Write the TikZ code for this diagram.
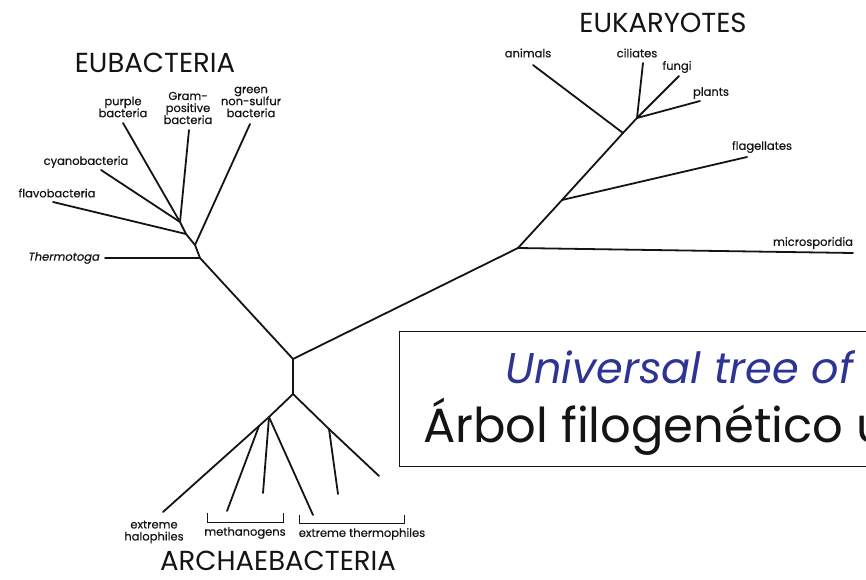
\documentclass[tikz,border=0pt]{standalone}
\usepackage{fontspec}
\setmainfont{Poppins}
\newfontfamily\taxonfont{Poppins}[FakeBold=0.4]
\definecolor{ink}{HTML}{141414}
\definecolor{capBlue}{HTML}{2E3494}
\definecolor{paper}{HTML}{FFFFFF}

\begin{document}
\begin{tikzpicture}[
    x=1pt, y=-1pt,
    every node/.style={text=ink},
    branch/.style={line width=1.8pt, draw=ink, line cap=round, line join=round},
    taxon/.style={font=\taxonfont\fontsize{11.5}{12}\selectfont, align=center, inner sep=0pt},
    domainname/.style={font=\fontsize{27.5}{28}\selectfont, inner sep=0pt},
    bracket/.style={line width=0.9pt, draw=ink},
    capbox/.style={draw=ink, line width=1.3pt, fill=paper, anchor=north west,
                   minimum width=520pt, minimum height=135pt},
    captext/.style={font=\fontsize{48}{50}\selectfont, anchor=base west, inner sep=0pt},
]

% --- Frame of the slide (the caption box runs off the right edge) ---
\path[use as bounding box, clip] (0,0) rectangle (866,580);

% --- Branch points ---
\coordinate (rT) at (293,359);
\coordinate (rB) at (293,394);
\coordinate (eA) at (180,222);
\coordinate (eB) at (186,234);
\coordinate (eC) at (195,245);
\coordinate (eD) at (200,258);
\coordinate (kA) at (518,248);
\coordinate (kB) at (562,200);
\coordinate (kC) at (623,133);
\coordinate (kD) at (637,118);
\coordinate (aL) at (269,417);
\coordinate (aM) at (259,426);
\coordinate (aR) at (329,429);

% --- Tips ---
\coordinate (tPurple)  at (123,123);
\coordinate (tGram)    at (189,130);
\coordinate (tGreen)   at (250,124);
\coordinate (tCyano)   at (101,170);
\coordinate (tFlavo)   at (53,202);
\coordinate (tThermo)  at (105,258);
\coordinate (tMicro)   at (853,253);
\coordinate (tFlag)    at (747,157);
\coordinate (tAnimal)  at (533,65);
\coordinate (tCiliate) at (643,63);
\coordinate (tFungi)   at (679,76);
\coordinate (tPlant)   at (700,101);
\coordinate (tHalo)    at (163,512);
\coordinate (tMethA)   at (227,511);
\coordinate (tMethB)   at (263,493);
\coordinate (tMethC)   at (313,515);
\coordinate (tThermA)  at (338,494);
\coordinate (tThermB)  at (379,476);

% --- Root ---
\draw[branch] (rT) -- (rB);
\draw[branch] (rT) -- (kA);
\draw[branch] (rT) -- (eD);

% --- Eubacteria ---
\draw[branch] (eD) -- (eC) -- (eB) -- (eA) -- (tPurple);
\draw[branch] (eA) -- (tGram);
\draw[branch] (eA) -- (tCyano);
\draw[branch] (eB) -- (tFlavo);
\draw[branch] (eC) -- (tGreen);
\draw[branch] (eD) -- (tThermo);

% --- Eukaryotes ---
\draw[branch] (kA) -- (tMicro);
\draw[branch] (kA) -- (kB) -- (kC) -- (kD) -- (tCiliate);
\draw[branch] (kB) -- (tFlag);
\draw[branch] (kC) -- (tAnimal);
\draw[branch] (kD) -- (tFungi);
\draw[branch] (kD) -- (tPlant);

% --- Archaebacteria ---
\draw[branch] (rB) -- (aL) -- (aM) -- (tHalo);
\draw[branch] (aM) -- (tMethA);
\draw[branch] (aL) -- (tMethB);
\draw[branch] (aL) -- (tMethC);
\draw[branch] (rB) -- (aR) -- (tThermB);
\draw[branch] (aR) -- (tThermA);

% --- Group brackets ---
\coordinate (methL) at (207,513);
\coordinate (methR) at (283,513);
\coordinate (thrmL) at (299,515);
\coordinate (thrmR) at (404,515);
\draw[bracket] (methL) -- ++(0,9) -| (methR);
\draw[bracket] (thrmL) -- ++(0,8) -| (thrmR);

% --- Taxon labels ---
\node[taxon] (lPurple)  at (123,107) {purple\\bacteria};
\node[taxon] (lGram)    at (188,108) {Gram-\\positive\\bacteria};
\node[taxon] (lGreen)   at (251,102) {green\\non-sulfur\\bacteria};
\node[taxon] (lCyano)   at (86,162)  {cyanobacteria};
\node[taxon] (lFlavo)   at (57,193)  {flavobacteria};
\node[taxon, anchor=east, font=\taxonfont\fontsize{11.5}{12}\selectfont\itshape]
             (lThermo)  at (100,258) {Thermotoga};
\node[taxon] (lAnimal)  at (528,53)  {animals};
\node[taxon] (lCiliate) at (637,53)  {ciliates};
\node[taxon] (lFungi)   at (677,67)  {fungi};
\node[taxon] (lPlant)   at (711,93)  {plants};
\node[taxon] (lFlag)    at (762,147) {flagellates};
\node[taxon] (lMicro)   at (813,243) {microsporidia};
\node[taxon] (lHalo)    at (154,532) {extreme\\halophiles};
\node[taxon] (lMeth)    at (245,533) {methanogens};
\node[taxon] (lThrm)    at (362,534) {extreme thermophiles};

% --- Domain names ---
\node[domainname] (eub)  at (155,63)  {EUBACTERIA};
\node[domainname] (euk)  at (663,23)  {EUKARYOTES};
\node[domainname] (arch) at (278,561) {ARCHAEBACTERIA};

% --- Caption box ---
\node[capbox] (caption) at (399,331) {};
\node[captext, text=capBlue, font=\fontsize{43}{45}\selectfont\itshape]
     (capEn) at (505,383) {Universal tree of life};
\node[captext] (capEs) at (423,442) {Árbol filogenético universal};

\end{tikzpicture}
\end{document}
